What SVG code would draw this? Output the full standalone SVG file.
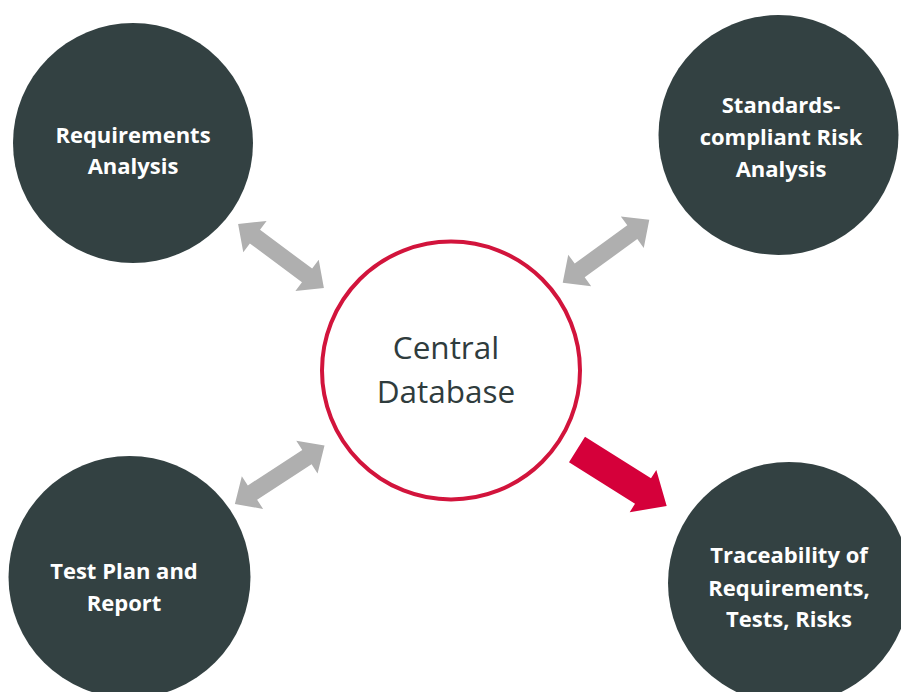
<svg xmlns="http://www.w3.org/2000/svg" width="901" height="692" viewBox="0 0 901 692">
<style>
.node{fill:#334142}
.lbl{font-family:"Open Sans","Liberation Sans",sans-serif;font-weight:bold;font-size:22px;fill:#ffffff;text-anchor:middle}
.ctr{font-family:"Open Sans","Liberation Sans",sans-serif;font-size:31.5px;fill:#2f3c3d;text-anchor:middle}
.dbl{fill:#afafaf}
.red{fill:#d5003a}
</style>
<defs>
<polygon id="dblArrow" points="-53.5,0 -32.5,-19.5 -32.5,-8.5 32.5,-8.5 32.5,-19.5 53.5,0 32.5,19.5 32.5,8.5 -32.5,8.5 -32.5,19.5"/>
</defs>
<rect width="901" height="692" fill="#ffffff"/>
<g id="connectors">
<use href="#dblArrow" class="dbl" transform="translate(281,256) rotate(36.7)"/>
<use href="#dblArrow" class="dbl" transform="translate(606,251.3) rotate(-36)"/>
<use href="#dblArrow" class="dbl" transform="translate(279.7,474.8) rotate(-33.1)"/>
<polygon class="red" points="0,-15 78,-15 78,-25 106,0 78,25 78,15 0,15" transform="translate(577,449.5) rotate(32.2)"/>
</g>
<g id="central">
<circle cx="451" cy="370.5" r="129" fill="#ffffff" stroke="#d2143c" stroke-width="4"/>
<text class="ctr" x="446" y="359">Central</text>
<text class="ctr" x="446" y="403">Database</text>
</g>
<g id="requirements">
<circle class="node" cx="133" cy="143" r="120"/>
<text class="lbl" x="133" y="143">Requirements</text>
<text class="lbl" x="133" y="174">Analysis</text>
</g>
<g id="risk">
<circle class="node" cx="778.5" cy="135" r="120"/>
<text class="lbl" x="781" y="113">Standards-</text>
<text class="lbl" x="781" y="145">compliant Risk</text>
<text class="lbl" x="781" y="177">Analysis</text>
</g>
<g id="testplan">
<circle class="node" cx="129.5" cy="577" r="121"/>
<text class="lbl" x="124" y="579">Test Plan and</text>
<text class="lbl" x="124" y="611">Report</text>
</g>
<g id="traceability">
<circle class="node" cx="789" cy="583" r="121"/>
<text class="lbl" x="789" y="563">Traceability of</text>
<text class="lbl" x="789" y="596">Requirements,</text>
<text class="lbl" x="789" y="627">Tests, Risks</text>
</g>
</svg>
